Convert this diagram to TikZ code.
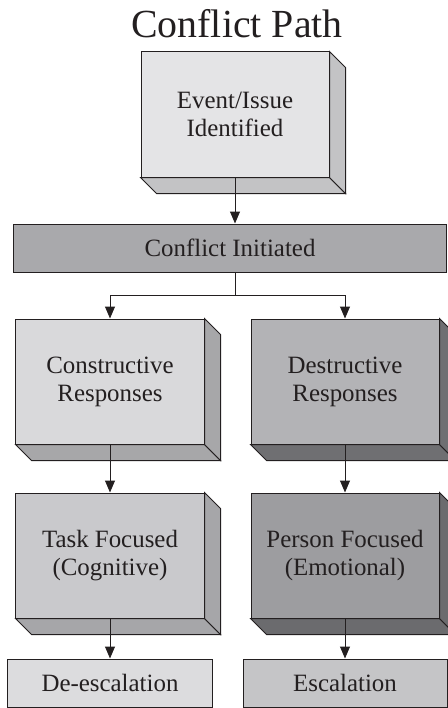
\documentclass[tikz,border=0pt]{standalone}
\usepackage{fontspec}
\setmainfont{Liberation Serif}
\usetikzlibrary{arrows.meta}

\definecolor{ink}{HTML}{231F20}
\definecolor{evfront}{HTML}{E4E4E6}
\definecolor{evside}{HTML}{C3C3C5}
\definecolor{barfill}{HTML}{A9A9AC}
\definecolor{consfront}{HTML}{D9D9DB}
\definecolor{consside}{HTML}{A7A7A9}
\definecolor{desfront}{HTML}{B3B3B6}
\definecolor{desside}{HTML}{6F6F72}
\definecolor{taskfront}{HTML}{C9C9CC}
\definecolor{taskside}{HTML}{A6A6A9}
\definecolor{persfront}{HTML}{9D9DA0}
\definecolor{persside}{HTML}{6B6B6E}
\definecolor{deescfill}{HTML}{DCDCDE}
\definecolor{escfill}{HTML}{C5C5C7}

\begin{document}
\begin{tikzpicture}[x=1bp,y=-1bp,
  box/.style={draw=ink,line width=1bp,align=center,inner sep=0pt,text=ink,
    font=\fontsize{25}{28}\selectfont},
  block/.style={box,minimum width=188bp,minimum height=125bp},
  bar/.style={box,minimum height=48bp},
  arrow/.style={-{Triangle[width=10bp,length=12bp]},line width=1bp,draw=ink},
  face/.style={draw=ink,line width=1bp,line join=miter}
]
\clip (0,0) rectangle (448,708);

\node[anchor=base,text=ink,font=\fontsize{40}{46}\selectfont] (title) at (237,38) {Conflict Path};

% 3d blocks
\node[block,fill=evfront] (event) at (235,114.5) {Event/Issue\\Identified};
\node[block,fill=consfront] (constr) at (110,381.5) {Constructive\\Responses};
\node[block,fill=desfront] (destr) at (345,381.5) {Destructive\\Responses};
\node[block,fill=taskfront] (task) at (110,555.5) {Task Focused\\(Cognitive)};
\node[block,fill=persfront] (person) at (345,555.5) {Person Focused\\(Emotional)};

% flat bars
\node[bar,fill=barfill,minimum width=432bp] (conflict) at (230,248) {Conflict Initiated};
\node[bar,fill=deescfill,minimum width=205bp] (deesc) at (110,683) {De-escalation};
\node[bar,fill=escfill,minimum width=204bp] (esc) at (345,683) {Escalation};

% bottom and right faces
\foreach \n/\c in {event/evside,constr/consside,destr/desside,task/taskside,person/persside}{
  \filldraw[face,fill=\c] (\n.south west) -- (\n.south east) -- ++(16,16)
    -- ([shift={(16,16)}]\n.south west) -- cycle;
  \filldraw[face,fill=\c] (\n.north east) -- ++(16,16)
    -- ([shift={(16,16)}]\n.south east) -- (\n.south east) -- cycle;
}

% connectors
\coordinate (split) at (235,295);
\draw[arrow] (event.south) -- (event.south |- conflict.north);
\draw[line width=1bp,ink] (conflict.south -| split) -- (split);
\draw[arrow] (split) -| (constr.north);
\draw[arrow] (split) -| (destr.north);
\draw[arrow] (constr.south) -- (task.north);
\draw[arrow] (destr.south) -- (person.north);
\draw[arrow] (task.south) -- (deesc.north);
\draw[arrow] (person.south) -- (esc.north);
\end{tikzpicture}
\end{document}
